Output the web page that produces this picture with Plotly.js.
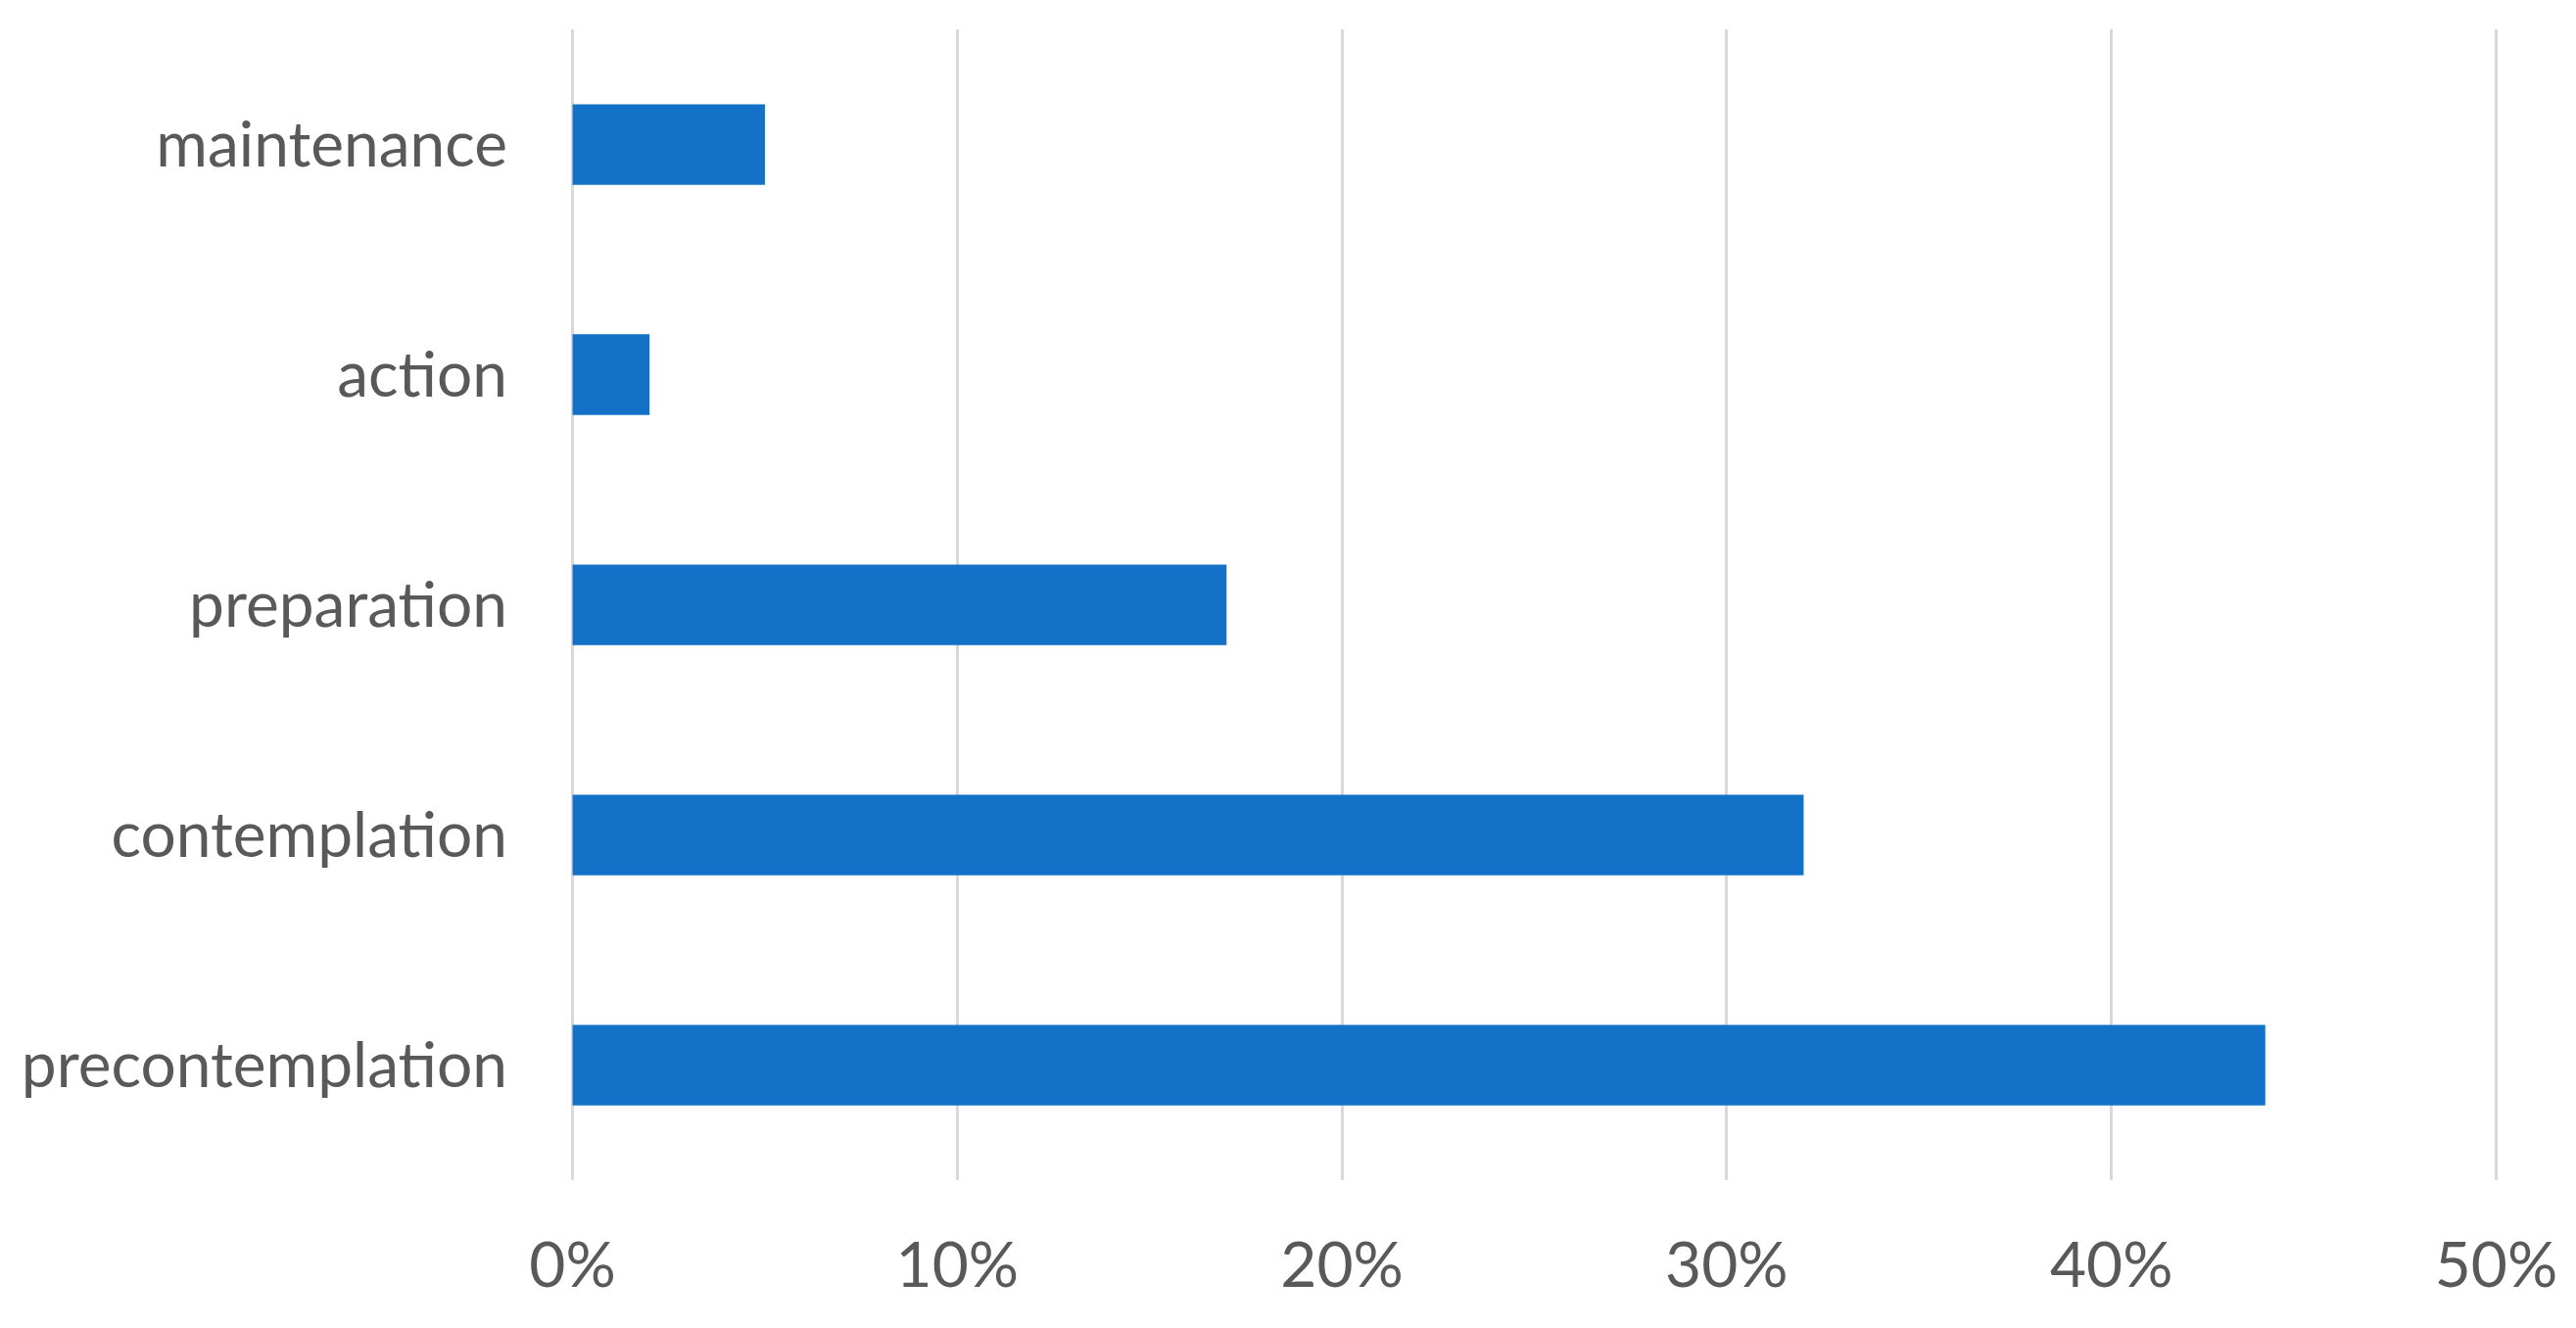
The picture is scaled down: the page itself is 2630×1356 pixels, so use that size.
<!DOCTYPE html>
<html>
<head>
<meta charset="utf-8">
<script src="https://cdn.plot.ly/plotly-3.0.1.min.js"></script>
<style>
html,body{margin:0;padding:0;background:#fff;}
#chart{width:2630px;height:1356px;}
</style>
</head>
<body>
<div id="chart"></div>
<script>
const categories = ["precontemplation", "contemplation", "preparation", "action", "maintenance"];
const shares = [44, 32, 17, 2, 5];
const tickValues = [0, 10, 20, 30, 40, 50];
const tickLabels = ["0%", "10%", "20%", "30%", "40%", "50%"];

const trace = {
  type: "bar",
  orientation: "h",
  y: categories,
  x: shares,
  marker: {color: "#1372C8", line: {width: 0}},
  hoverinfo: "none"
};

const layout = {
  width: 2630,
  height: 1356,
  margin: {l: 583, r: 80, t: 30, b: 151},
  paper_bgcolor: "#ffffff",
  plot_bgcolor: "#ffffff",
  showlegend: false,
  bargap: 0.65,
  font: {family: "Lato, 'Open Sans', sans-serif", color: "#595959", size: 64},
  xaxis: {
    range: [-0.04, 50.04],
    tickvals: tickValues,
    ticktext: tickLabels,
    showgrid: true,
    gridcolor: "#D9D9D9",
    gridwidth: 3,
    zeroline: false,
    showline: false,
    ticks: "",
    ticklabelstandoff: 44,
    tickfont: {size: 64, color: "#595959"},
    fixedrange: true
  },
  yaxis: {
    type: "category",
    categoryorder: "array",
    categoryarray: categories,
    showgrid: false,
    zeroline: false,
    showline: false,
    ticks: "",
    ticklabelstandoff: 64,
    tickfont: {size: 64, color: "#595959"},
    fixedrange: true
  }
};

Plotly.newPlot("chart", [trace], layout, {displayModeBar: false, staticPlot: true});
</script>
</body>
</html>
